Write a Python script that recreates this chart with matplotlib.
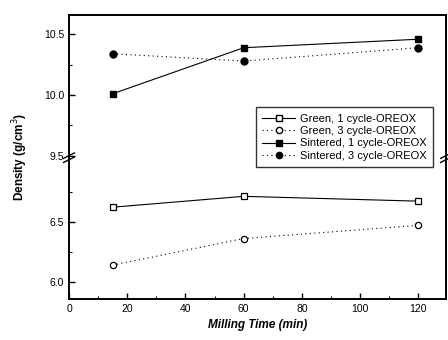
import matplotlib
matplotlib.use('AGG')

import numpy as np
import matplotlib.pyplot as plt
from matplotlib.lines import Line2D
from matplotlib.ticker import MultipleLocator, FixedLocator, FormatStrFormatter

plt.rcParams['font.family'] = ['Liberation Sans', 'DejaVu Sans']

# milling time (min)
milling_time = [15, 60, 120]

# densities (g/cm3)
green_1cycle = [6.62, 6.71, 6.67]
green_3cycle = [6.14, 6.36, 6.47]
sintered_1cycle = [10.01, 10.39, 10.46]
sintered_3cycle = [10.34, 10.28, 10.39]

labels = ['Green, 1 cycle-OREOX', 'Green, 3 cycle-OREOX',
          'Sintered, 1 cycle-OREOX', 'Sintered, 3 cycle-OREOX']

fig = plt.figure(figsize=(4.48, 3.4), dpi=100)
left, right = 69 / 448, 446 / 448
y_top, y_brk, y_bot = 1 - 15 / 340, 1 - 157 / 340, 1 - 299 / 340
ax_top = fig.add_axes([left, y_brk, right - left, y_top - y_brk])
ax_bot = fig.add_axes([left, y_bot, right - left, y_brk - y_bot], sharex=ax_top)

dotted = (0, (1, 3))
ax_bot.plot(milling_time, green_1cycle, '-', color='black', lw=0.8,
            marker='s', ms=4.5, mfc='white', mec='black', mew=0.9)
ax_bot.plot(milling_time, green_3cycle, linestyle=dotted, color='black', lw=0.8,
            marker='o', ms=4.5, mfc='white', mec='black', mew=0.9)
ax_top.plot(milling_time, sintered_1cycle, '-', color='black', lw=0.8,
            marker='s', ms=5, mfc='black', mec='black')
ax_top.plot(milling_time, sintered_3cycle, linestyle=dotted, color='black', lw=0.8,
            marker='o', ms=5, mfc='black', mec='black')

ax_top.set_ylim(9.488, 10.66)
ax_bot.set_ylim(5.859, 7.036)
ax_bot.set_xlim(0, 129.5)

ax_top.yaxis.set_major_locator(FixedLocator([9.5, 10.0, 10.5]))
ax_top.yaxis.set_minor_locator(FixedLocator([9.75, 10.25]))
ax_bot.yaxis.set_major_locator(FixedLocator([6.0, 6.5]))
ax_bot.yaxis.set_minor_locator(FixedLocator([6.25, 6.75]))

for ax in (ax_top, ax_bot):
    for sp in ax.spines.values():
        sp.set_linewidth(1.4)
    ax.yaxis.set_major_formatter(FormatStrFormatter('%.1f'))
    ax.tick_params(which='both', direction='in', labelsize=7.5, right=False, top=False)
    ax.tick_params(which='major', length=4, width=1)
    ax.tick_params(which='minor', length=2, width=0.8)

ax_top.spines['bottom'].set_visible(False)
ax_bot.spines['top'].set_visible(False)
ax_top.tick_params(axis='x', which='both', bottom=False, labelbottom=False)

ax_bot.xaxis.set_major_locator(MultipleLocator(20))
ax_bot.xaxis.set_minor_locator(MultipleLocator(10))
ax_bot.set_xlabel('Milling Time (min)', fontsize=8.5, fontweight='bold',
                  fontstyle='italic', labelpad=4)

fig.text(0.045, (y_top + y_bot) / 2, 'Density (g/cm$^3$)', rotation=90,
         fontsize=8.5, fontweight='bold', va='center', ha='center')

# axis break marks
d = 0.012
for xb in (left, right):
    for dy in (-0.008, 0.004):
        fig.add_artist(Line2D([xb - d, xb + d], [y_brk + dy - 0.008, y_brk + dy + 0.008],
                              color='black', lw=1.0, transform=fig.transFigure))

handles = [
    Line2D([], [], color='black', lw=0.8, marker='s', ms=4.5, mfc='white', mec='black'),
    Line2D([], [], color='black', lw=0.8, linestyle=dotted, marker='o', ms=4.5,
           mfc='white', mec='black'),
    Line2D([], [], color='black', lw=0.8, marker='s', ms=4.5, mfc='black', mec='black'),
    Line2D([], [], color='black', lw=0.8, linestyle=dotted, marker='o', ms=4.5,
           mfc='black', mec='black'),
]
leg = fig.legend(handles, labels, loc='upper left', bbox_to_anchor=(256 / 448, 1 - 107.5 / 340),
                 fontsize=8, frameon=True, fancybox=False, edgecolor='black',
                 handlelength=3.0, handletextpad=0.4, labelspacing=0.22,
                 borderpad=0.55, borderaxespad=0)
leg.get_frame().set_linewidth(1.0)

fig.savefig('out.png', dpi=100)
